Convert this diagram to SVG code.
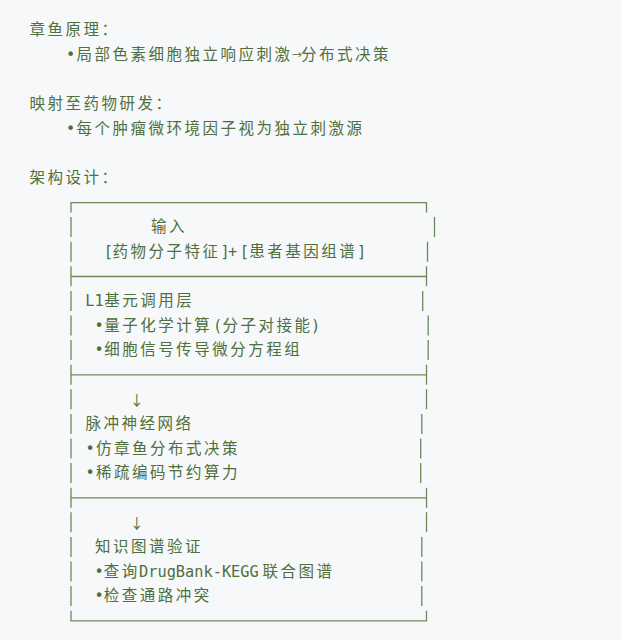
<svg xmlns="http://www.w3.org/2000/svg" width="621" height="640" viewBox="0 0 621 640">
<style>
.cjk{font-family:"Noto Sans CJK SC","Noto Sans",sans-serif;font-size:15.5px;letter-spacing:2.5px;fill:#4f6f3d}
.mono{font-family:"DejaVu Sans Mono","Liberation Mono",monospace;font-size:15.3px;fill:#4f6f3d}
.arr{font-family:"Noto Sans CJK SC",sans-serif;fill:#4f6f3d;text-anchor:middle}
.mid{text-anchor:middle}
.ls0{letter-spacing:0}
.frame{stroke:#6d895b;stroke-width:1.3;fill:none}
</style>
<rect width="621" height="640" fill="#f6f8fa"/>
<g id="notes">
<text class="cjk" x="29.5" y="35.3">章鱼原理：</text>
<text class="mono mid" x="70.5" y="59.9">•</text>
<text class="cjk" x="76.5" y="59.9">局部色素细胞独立响应刺<tspan class="ls0">激</tspan></text>
<text class="arr" x="297" y="58.6" style="font-size:10px">→</text>
<text class="cjk" x="301" y="59.9">分布式决策</text>
<text class="cjk" x="29.5" y="109.1">映射至药物研发：</text>
<text class="mono mid" x="70.5" y="133.7">•</text>
<text class="cjk" x="76.5" y="133.7">每个肿瘤微环境因子视为独立刺激源</text>
<text class="cjk" x="29.5" y="182.9">架构设计：</text>
</g>
<g id="frame">
<path class="frame" d="M71,212.5V202.7H426.5V212.5M71,266.3v20M426.5,266.3v20M71,276.5H426.5M71,364.7v20M426.5,364.7v20M71,374.9H426.5M71,487.7v20M426.5,487.7v20M71,497.9H426.5M71,610.7V620.9H426.5V610.7"/>
<path class="frame" d="M71,217.1v20M71,241.7v20M71,290.9v20M71,315.5v20M71,340.1v20M71,389.3v20M71,413.9v20M71,438.5v20M71,463.1v20M71,512.3v20M71,536.9v20M71,561.5v20M71,586.1v20"/>
<path class="frame" d="M434.5,217.1v20M427.5,241.7v20M422.7,290.9v20M428.2,315.5v20M428.2,340.1v20M426.5,389.3v20M421.8,413.9v20M420.7,438.5v20M420.7,463.1v20M426.5,512.3v20M421.8,536.9v20M421.8,561.5v20M421.8,586.1v20"/>
</g>
<g id="input">
<text class="cjk" x="151" y="232.1">输入</text>
<text class="mono mid" x="108.3" y="256.7">[</text>
<text class="cjk" x="112.5" y="256.7">药物分子特<tspan class="ls0">征</tspan></text>
<text class="mono" x="220.4 227.9 239.7" y="256.7">]+[</text>
<text class="cjk" x="249.3" y="256.7">患者基因组<tspan class="ls0">谱</tspan></text>
<text class="mono mid" x="361.5" y="256.7">]</text>
</g>
<g id="layer-l1">
<text class="mono" x="85.3" y="305.9">L1</text>
<text class="cjk" x="104.3" y="305.9">基元调用层</text>
<text class="mono mid" x="99.2" y="330.5">•</text>
<text class="cjk" x="104.3" y="330.5">量子化学计<tspan class="ls0">算</tspan></text>
<text class="mono mid" x="217.5" y="330.5">(</text>
<text class="cjk" x="222.5" y="330.5">分子对接<tspan class="ls0">能</tspan></text>
<text class="mono mid" x="315.5" y="330.5">)</text>
<text class="mono mid" x="99.2" y="355.1">•</text>
<text class="cjk" x="104.3" y="355.1">细胞信号传导微分方程组</text>
</g>
<g id="connectors">
<text class="arr" x="136.7" y="404.5" style="font-size:14px">↓</text>
<text class="arr" x="136.7" y="527.5" style="font-size:14px">↓</text>
</g>
<g id="snn">
<text class="cjk" x="85.5" y="428.9">脉冲神经网络</text>
<text class="mono mid" x="90" y="453.5">•</text>
<text class="cjk" x="96" y="453.5">仿章鱼分布式决策</text>
<text class="mono mid" x="90" y="478.1">•</text>
<text class="cjk" x="96" y="478.1">稀疏编码节约算力</text>
</g>
<g id="kg">
<text class="cjk" x="95" y="551.9">知识图谱验证</text>
<text class="mono mid" x="99.2" y="576.5">•</text>
<text class="cjk" x="103.7" y="576.5">查<tspan class="ls0">询</tspan></text>
<text class="mono" x="139" y="576.5">DrugBank-KEGG</text>
<text class="cjk" x="262.5" y="576.5">联合图谱</text>
<text class="mono mid" x="99.2" y="601.1">•</text>
<text class="cjk" x="103.7" y="601.1">检查通路冲突</text>
</g>
</svg>
